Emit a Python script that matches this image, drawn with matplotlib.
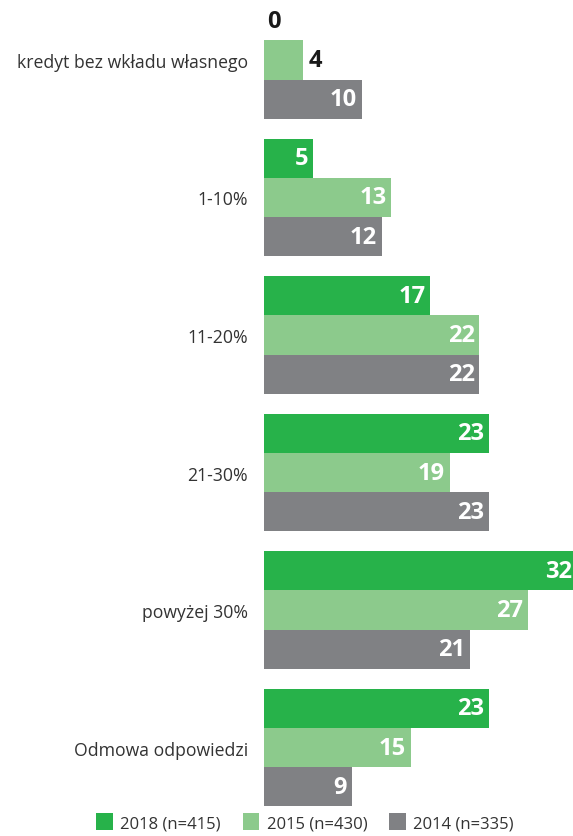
import matplotlib
matplotlib.use("Agg")
import matplotlib.pyplot as plt
import numpy as np
from matplotlib.patches import Patch

categories = ["kredyt bez wkładu własnego", "1-10%", "11-20%", "21-30%", "powyżej 30%", "Odmowa odpowiedzi"]
series_names = ["2018 (n=415)", "2015 (n=430)", "2014 (n=335)"]
v2018 = [0, 5, 17, 23, 32, 23]
v2015 = [4, 13, 22, 19, 27, 15]
v2014 = [10, 12, 22, 23, 21, 9]
colors = ["#27b24a", "#8cca8c", "#808184"]

plt.rcParams['font.family'] = ['Open Sans', 'DejaVu Sans']

fig = plt.figure(figsize=(5.73, 8.37), dpi=100)
ax = fig.add_axes([264/573, 1 - 807.5/837, 1 - 264/573, (807.5 - 2)/837])

h = 0.286
y = np.arange(len(categories))
series = [v2018, v2015, v2014]
for k, (vals, c) in enumerate(zip(series, colors)):
    pos = y + (k - 1) * h
    ax.barh(pos, vals, height=h, color=c, linewidth=0)
    for p, v in zip(pos, vals):
        if v >= 5:
            ax.text(v - 0.5, p, str(v), ha='right', va='center', color='white',
                    fontsize=17, fontweight='bold')
        else:
            ax.text(v + (0.55 if v > 0 else 0.35), p, str(v), ha='left', va='center',
                    color='#1a1a1a', fontsize=17, fontweight='bold')

ax.set_xlim(0, 31.55)
ax.set_ylim(5 + 1.5 * h, -1.5 * h)
ax.set_yticks(y)
ax.set_yticklabels(categories, fontsize=12.7, color='#333333')
ax.tick_params(axis='y', length=0, pad=11.5)
ax.set_xticks([])
for s in ax.spines.values():
    s.set_visible(False)

handles = [Patch(facecolor=c, edgecolor='none') for c in colors]
fig.legend(handles, series_names, loc='lower left', bbox_to_anchor=(88/573, -0.004),
           ncol=3, frameon=False, fontsize=12, handlelength=1.0, handleheight=1.15,
           handletextpad=0.45, columnspacing=1.3, borderpad=0, labelcolor='#333333')

fig.savefig("out.png", dpi=100)
